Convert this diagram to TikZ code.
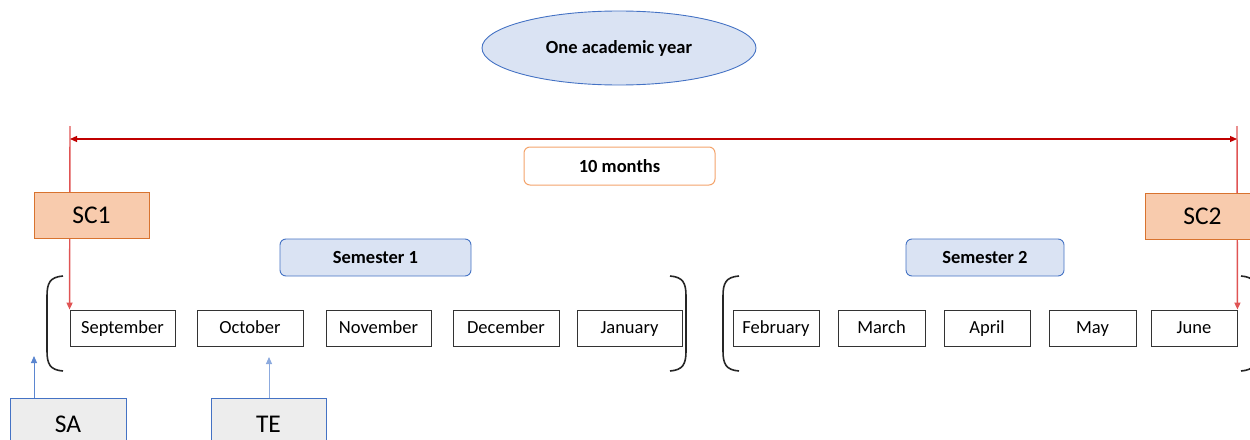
\documentclass[tikz,border=0pt]{standalone}
\usepackage{fontspec}
\setmainfont{Carlito}
\usetikzlibrary{shapes.geometric,arrows.meta}
\definecolor{paleblue}{HTML}{DAE3F3}
\definecolor{edgeblue}{HTML}{4472C4}
\definecolor{peach}{HTML}{F8CBAD}
\definecolor{rust}{HTML}{D8732F}
\definecolor{lightorange}{HTML}{F4A46C}
\definecolor{darkred}{HTML}{C00000}
\definecolor{softred}{HTML}{E05454}
\definecolor{palegray}{HTML}{EDEDED}
\definecolor{arrowblue}{HTML}{5B86D0}
\tikzset{
  month/.style={draw=black!80, line width=0.9pt, minimum height=36pt, inner sep=0pt, text height=13pt, text depth=3pt, font=\fontsize{18.5}{20}\selectfont},
  headbox/.style={draw=edgeblue, fill=paleblue, rounded corners=6pt, line width=0.9pt, minimum width=191pt, minimum height=37pt, font=\bfseries\fontsize{18.5}{20}\selectfont},
  scbox/.style={draw=rust, fill=peach, line width=1pt, minimum width=115pt, minimum height=46pt, font=\fontsize{25.5}{28}\selectfont},
  evalbox/.style={draw=edgeblue, fill=palegray, line width=1pt, minimum width=116pt, minimum height=52pt, font=\fontsize{25.5}{28}\selectfont, text depth=0pt},
  redline/.style={draw=softred, line width=1.4pt},
  tip/.style={-{Triangle[length=7pt,width=6pt]}},
  paren/.style={draw=black!85, line width=1.6pt}
}
\begin{document}
\begin{tikzpicture}[x=1pt,y=-1pt]
\useasboundingbox (0,0) rectangle (1250,439);
\clip (0,0) rectangle (1250,439);

% title
\node[ellipse, draw=edgeblue, fill=paleblue, line width=0.9pt, minimum width=274pt, minimum height=74pt, font=\bfseries\fontsize{18.5}{20}\selectfont] (year) at (619,48) {One academic year};

% duration label
\node[draw=lightorange, fill=white, rounded corners=6pt, line width=1pt, minimum width=191pt, minimum height=38pt, font=\bfseries\fontsize{18.5}{20}\selectfont] (dur) at (619.5,166) {10 months};

% semester headers
\node[headbox] (sem1) at (375.5,257.5) {Semester 1};
\node[headbox, minimum width=158pt] (sem2) at (985,257.5) {Semester 2};

% months
\node[month, minimum width=105pt] (sep) at (122.5,328) {September};
\node[month, minimum width=106pt] (oct) at (250,328) {October};
\node[month, minimum width=105pt] (nov) at (378.5,328) {November};
\node[month, minimum width=106pt] (dec) at (506,328) {December};
\node[month, minimum width=105pt] (jan) at (629.5,328) {January};
\node[month, minimum width=86pt] (feb) at (776,328) {February};
\node[month, minimum width=87pt] (mar) at (881.5,328) {March};
\node[month, minimum width=86pt] (apr) at (987,328) {April};
\node[month, minimum width=87pt] (may) at (1092.5,328) {May};
\node[month, minimum width=86pt] (jun) at (1194,328) {June};

% brackets around each semester
\draw[paren] (63,276) .. controls (50,277) and (47,283) .. (47,296) -- (47,351) .. controls (47,364) and (50,370) .. (63,371);
\draw[paren] (670,276) .. controls (683,277) and (686,283) .. (686,296) -- (686,351) .. controls (686,364) and (683,370) .. (670,371);
\draw[paren] (739,276) .. controls (726,277) and (723,283) .. (723,296) -- (723,351) .. controls (723,364) and (726,370) .. (739,371);
\draw[paren] (1241,276) .. controls (1254,277) and (1257,283) .. (1257,296) -- (1257,351) .. controls (1257,364) and (1254,370) .. (1241,371);

% span of the year
\coordinate (ltop) at (70,126);
\coordinate (rtop) at (1237,126);
\coordinate (lmid) at (70,139);
\coordinate (rmid) at (1237,139);
\draw[redline, tip] (ltop) -- (sep.north west);
\draw[redline, tip] (rtop) -- (jun.north east);
\draw[draw=darkred, line width=1.2pt, {Triangle[length=7pt,width=6pt]}-{Triangle[length=7pt,width=6pt]}] (lmid) -- (rmid);

% sessions
\node[scbox] (sc1) at (91.5,215) {SC1};
\node[scbox] (sc2) at (1202.5,216) {SC2};

% assessments
\node[evalbox] (sa) at (68,424) {SA};
\node[evalbox, minimum width=115pt] (te) at (268.5,424) {TE};
\coordinate (satip) at (34,356);
\coordinate (tetip) at (269,357);
\draw[draw=arrowblue, line width=0.9pt, -{Triangle[length=7pt,width=6pt]}] (sa.north -| satip) -- (satip);
\draw[draw=arrowblue!70, line width=0.9pt, -{Triangle[length=7pt,width=6pt]}] (te.north -| tetip) -- (tetip);
\end{tikzpicture}
\end{document}
